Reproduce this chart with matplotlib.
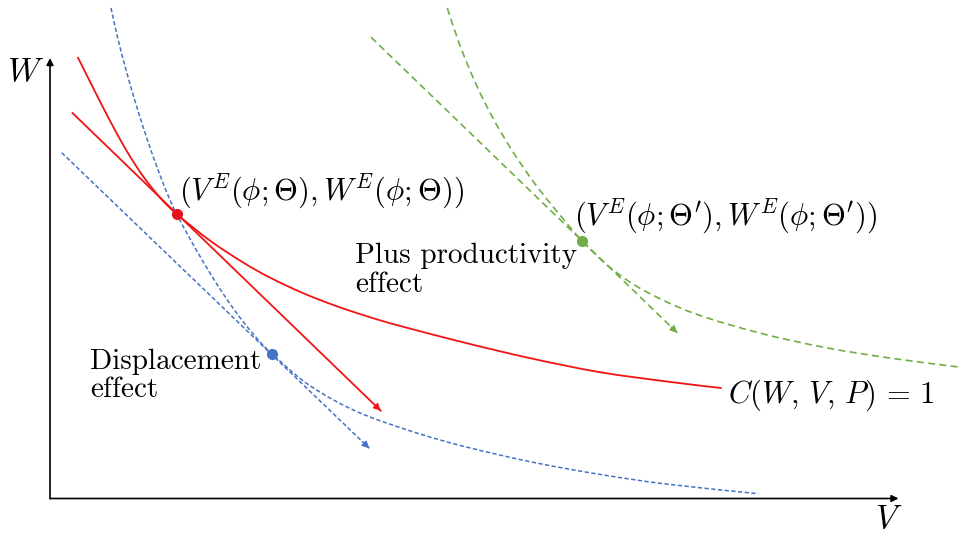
import matplotlib
matplotlib.use("Agg")
import matplotlib.pyplot as plt
from matplotlib.path import Path
from matplotlib.patches import PathPatch

plt.rcParams["mathtext.fontset"] = "cm"
plt.rcParams["font.family"] = ["cmr10", "DejaVu Serif"]
plt.rcParams["axes.unicode_minus"] = False

# --- iso-cost curve C(W, V, P) = 1 (solid red) ---
red_curve_v = [0.277, 0.433, 0.60, 0.767, 0.933, 1.10, 1.267, 1.60, 1.933, 2.20,
               2.53, 2.867, 3.20, 3.50, 4.167, 4.83, 5.50, 6.167, 6.717]
red_curve_w = [4.415, 4.103, 3.777, 3.476, 3.219, 3.01, 2.845, 2.579, 2.359, 2.209,
               2.054, 1.923, 1.813, 1.726, 1.553, 1.397, 1.263, 1.17, 1.104]

# --- shifted curve after the displacement effect (dashed blue) ---
blue_curve_v = [0.61, 0.68, 0.77, 0.87, 0.98, 1.10, 1.20, 1.267, 1.433, 1.60, 1.767,
                1.933, 2.10, 2.223, 2.533, 2.867, 3.20, 3.70, 4.167, 4.83, 5.50,
                6.167, 7.083]
blue_curve_w = [4.905, 4.594, 4.25, 3.909, 3.568, 3.233, 2.985, 2.843, 2.538, 2.254,
                1.995, 1.766, 1.566, 1.445, 1.175, 0.968, 0.815, 0.645, 0.514,
                0.362, 0.241, 0.144, 0.048]

# --- curve including the productivity effect (dashed green) ---
green_curve_v = [3.973, 4.10, 4.267, 4.433, 4.60, 4.767, 4.933, 5.10, 5.317, 5.60,
                 5.933, 6.433, 7.10, 7.767, 8.433, 9.10]
green_curve_w = [4.905, 4.53, 4.129, 3.797, 3.513, 3.262, 3.038, 2.834, 2.58, 2.311,
                 2.084, 1.854, 1.654, 1.507, 1.40, 1.313]

# tangent (iso-output) lines: start and end points
red_line_v = [0.225, 3.307]
red_line_w = [3.855, 0.878]
blue_line_v = [0.117, 3.193]
blue_line_w = [3.458, 0.502]
green_line_v = [3.21, 6.273]
green_line_w = [4.613, 1.657]

# equilibrium points
eq_v = [1.267, 2.223, 5.317]
eq_w = [2.845, 1.445, 2.58]

axis_v_end = 8.485
axis_w_end = 4.405

RED = "#f01414"
RED_DOT = "#e8101c"
BLUE = "#4472c4"
GREEN = "#70ad47"

fig = plt.figure(figsize=(9.63, 5.33), dpi=100)
ax = fig.add_axes([0, 0, 1, 1])
ax.set_xlim(-0.50, 9.13)
ax.set_ylim(-0.345, 4.985)
ax.set_axis_off()


def smooth_path(vs, ws):
    """Cubic Bezier path through the given points (Catmull-Rom tangents)."""
    pts = list(zip(vs, ws))
    n = len(pts)
    verts = [pts[0]]
    codes = [Path.MOVETO]
    for i in range(n - 1):
        p0 = pts[max(i - 1, 0)]
        p1 = pts[i]
        p2 = pts[i + 1]
        p3 = pts[min(i + 2, n - 1)]
        c1 = (p1[0] + (p2[0] - p0[0]) / 6, p1[1] + (p2[1] - p0[1]) / 6)
        c2 = (p2[0] - (p3[0] - p1[0]) / 6, p2[1] - (p3[1] - p1[1]) / 6)
        verts += [c1, c2, p2]
        codes += [Path.CURVE4] * 3
    return Path(verts, codes)


def draw_curve(vs, ws, color, lw, dashes=None):
    ls = "-" if dashes is None else (0, dashes)
    ax.add_patch(PathPatch(smooth_path(vs, ws), fill=False, edgecolor=color,
                           lw=lw, linestyle=ls, capstyle="butt"))


# coordinate axes
for xy in [(0, axis_w_end), (axis_v_end, 0)]:
    ax.annotate("", xy=xy, xytext=(0, 0),
                arrowprops=dict(arrowstyle="-|>", color="black", lw=1.2,
                                mutation_scale=10, shrinkA=0, shrinkB=0))

ax.text(-0.24, 4.265, r"$W$", fontsize=24, ha="center", va="center")
ax.text(8.385, -0.205, r"$V$", fontsize=24, ha="center", va="center")

# curves
draw_curve(red_curve_v, red_curve_w, RED, 1.3)
draw_curve(blue_curve_v, blue_curve_w, BLUE, 1.1, dashes=(2.8, 1.6))
draw_curve(green_curve_v, green_curve_w, GREEN, 1.2, dashes=(4.2, 2.6))


def arrow_line(vs, ws, color, lw, dashes=None):
    if dashes is None:
        ax.plot(vs, ws, color=color, lw=lw)
    else:
        ax.plot(vs, ws, color=color, lw=lw, dashes=dashes)
    tail = (vs[1] - 0.02 * (vs[1] - vs[0]), ws[1] - 0.02 * (ws[1] - ws[0]))
    ax.annotate("", xy=(vs[1], ws[1]), xytext=tail,
                arrowprops=dict(arrowstyle="-|>", color=color, lw=0.8,
                                mutation_scale=11, shrinkA=0, shrinkB=0))


arrow_line(red_line_v, red_line_w, RED, 1.3)
arrow_line(blue_line_v, blue_line_w, BLUE, 1.1, dashes=(2.8, 1.6))
arrow_line(green_line_v, green_line_w, GREEN, 1.2, dashes=(4.2, 2.6))

# equilibrium points
for v, w, c in zip(eq_v, eq_w, [RED_DOT, BLUE, GREEN]):
    ax.plot(v, w, "o", color=c, ms=7, zorder=5)

# labels
ax.text(1.29, 2.985, r"$(V^E(\phi;\Theta), W^E(\phi;\Theta))$", fontsize=22,
        ha="left", va="baseline")
ax.text(5.245, 2.735, r"$(V^E(\phi;\Theta'), W^E(\phi;\Theta'))$", fontsize=22,
        ha="left", va="baseline")
ax.text(6.78, 0.96, r"$C(W,\,V,\,P)\,=\,1$", fontsize=22, ha="left",
        va="baseline")

ax.text(3.05, 2.355, "Plus productivity", fontsize=21, ha="left", va="baseline")
ax.text(3.05, 2.065, "effect", fontsize=21, ha="left", va="baseline")
ax.text(0.40, 1.295, "Displacement", fontsize=21, ha="left", va="baseline")
ax.text(0.40, 1.015, "effect", fontsize=21, ha="left", va="baseline")

fig.savefig("out.png", dpi=100)
